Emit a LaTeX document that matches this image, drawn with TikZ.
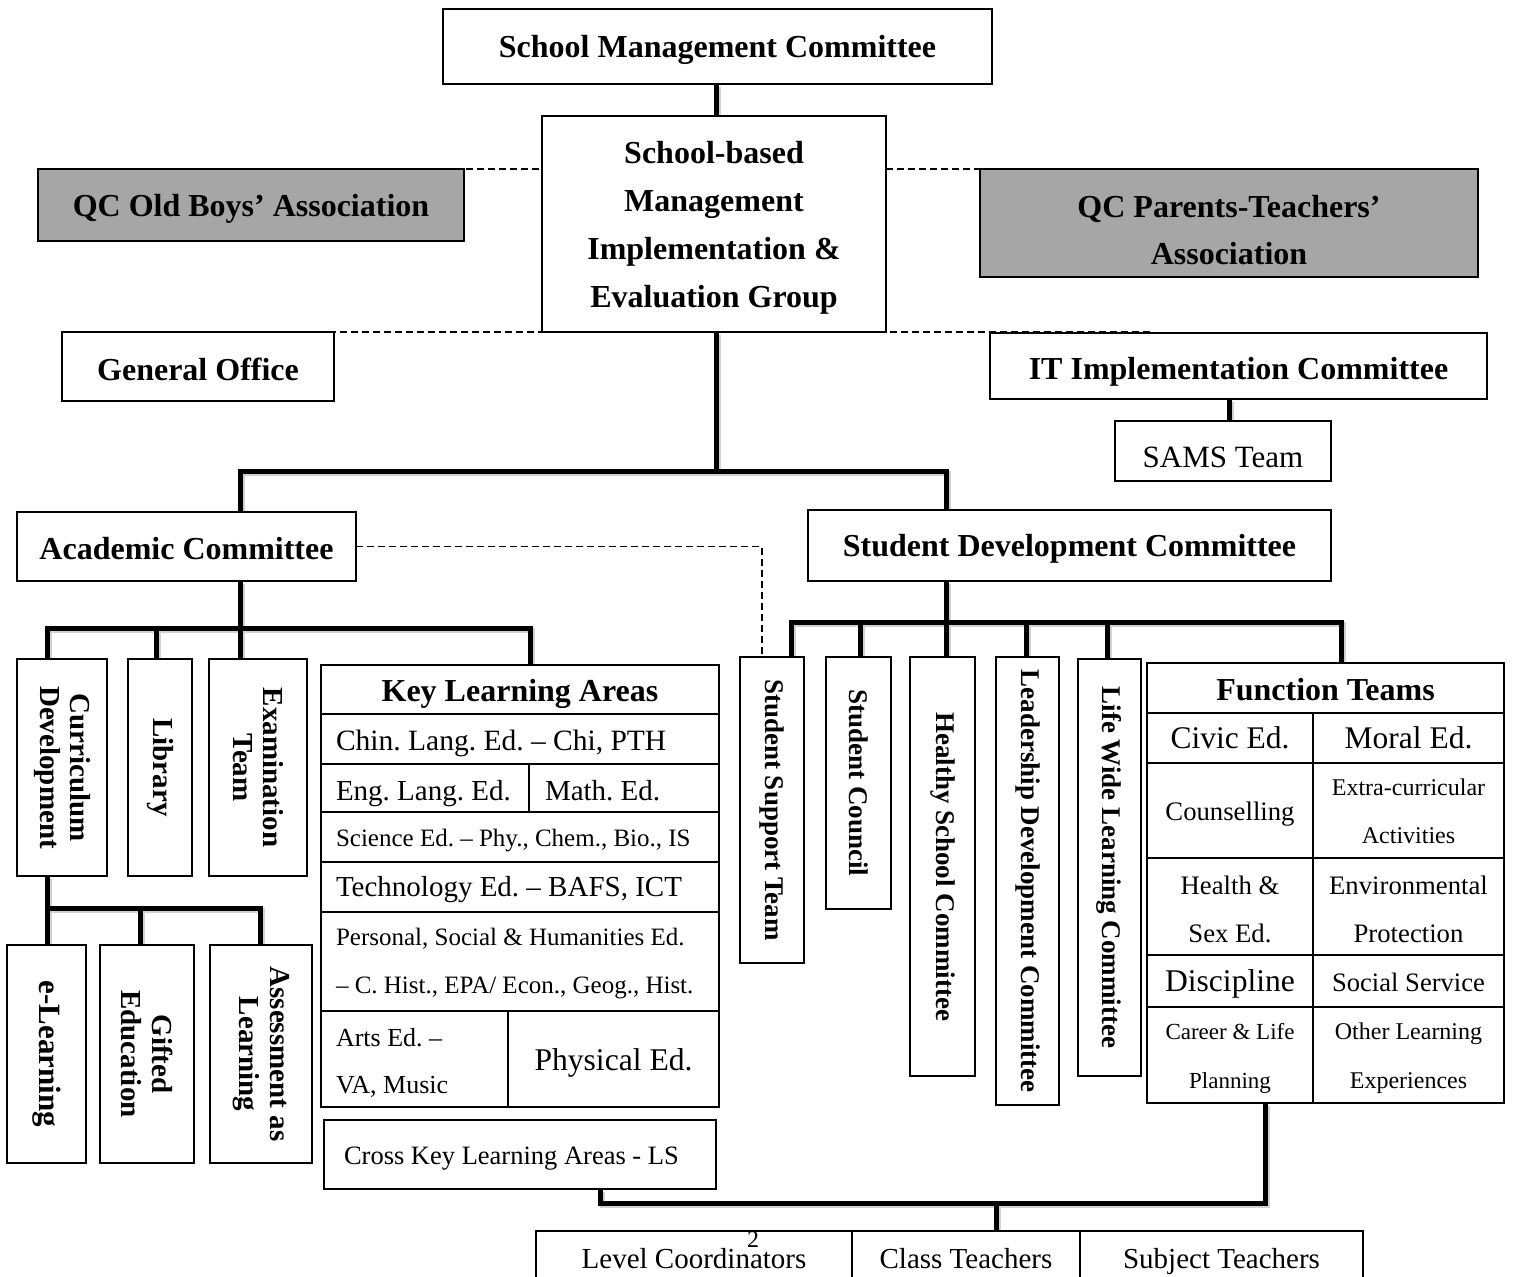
\documentclass[tikz,border=0pt]{standalone}
\usepackage{fontspec}
\setmainfont{Liberation Serif}
\frenchspacing
\usetikzlibrary{backgrounds}
\definecolor{boxgray}{RGB}{166,166,166}
\tikzset{
  bx/.style={draw, line width=1.4pt, fill=white, inner sep=0pt, outer sep=0pt},
  conn/.style={line width=5pt, line join=miter,
    preaction={draw=black!18, line width=5pt, transform canvas={shift={(2pt,-2.5pt)}}}},
  dsh/.style={line width=1.8pt, dash pattern=on 7pt off 4pt},
  tline/.style={line width=2pt},
  tx/.style={inner sep=0pt, outer sep=0pt},
  fz/.style n args={2}{font=\fontsize{#1}{#2}\selectfont},
  fzb/.style n args={2}{font=\fontsize{#1}{#2}\selectfont\bfseries},
}
% horizontal box: [box opts]{name}{x1}{y1}{x2}{y2}{text opts}{text}
\newcommand\hb[8][]{\node[bx,#1,minimum width={(#5-#3)*1pt},minimum height={(#6-#4)*1pt}] (#2) at ({(#3+#5)/2},{(#4+#6)/2}) {};
  \node[tx,align=center,#7] (#2-t) at (#2.center) {#8};}
% vertical box with rotated text
\newcommand\vb[8][]{\node[bx,#1,minimum width={(#5-#3)*1pt},minimum height={(#6-#4)*1pt}] (#2) at ({(#3+#5)/2},{(#4+#6)/2}) {};
  \node[tx,align=center,rotate=-90,#7] (#2-t) at (#2.center) {#8};}
\begin{document}
\begin{tikzpicture}[x=1pt,y=-1pt]
\useasboundingbox (0,0) rectangle (1513,1277);

% top level
\hb{smc}{443}{9}{992}{84}{fzb={32}{48},yshift=-3pt}{School Management Committee}
\hb{sbm}{542}{116}{886}{332}{fzb={32}{48},yshift=-4pt}{School-based\\Management\\Implementation \&\\Evaluation Group}
\hb[fill=boxgray]{oba}{38}{169}{464}{241}{fzb={32}{48},yshift=-4pt}{QC Old Boys’ Association}
\hb[fill=boxgray]{pta}{980}{169}{1478}{277}{fzb={32}{47},yshift=-7pt}{QC Parents-Teachers’\\Association}
\hb{go}{62}{332}{334}{401}{fzb={32}{48},yshift=-3pt}{General Office}
\hb{it}{990}{333}{1487}{399}{fzb={32}{48},yshift=-6pt}{IT Implementation Committee}
\hb{sams}{1115}{421}{1331}{481}{fz={31}{40},yshift=-6pt}{SAMS Team}
\hb{acad}{17}{512}{356}{581}{fzb={32}{48},yshift=-2pt}{Academic Committee}
\hb{sdc}{808}{510}{1331}{581}{fzb={32}{48},yshift=-3pt}{Student Development Committee}

% academic branches
\vb{cd}{17}{659}{107}{876}{fzb={29}{30}}{Curriculum\\Development}
\vb{lib}{128}{659}{192}{876}{fzb={29}{30}}{Library}
\vb{exam}{209}{659}{307}{876}{fzb={29}{30}}{Examination\\Team}
\vb{el}{7}{945}{86}{1163}{fzb={31}{31}}{e-Learning}
\vb{ge}{100}{945}{194}{1163}{fzb={29}{31}}{Gifted\\Education}
\vb{al}{210}{945}{312}{1163}{fzb={29}{31}}{Assessment as\\Learning}

% student development branches
\vb{sst}{740}{657}{804}{963}{fzb={27}{30}}{Student Support Team}
\vb{sc}{826}{657}{891}{909}{fzb={27}{30}}{Student Council}
\vb{hs}{910}{657}{975}{1076}{fzb={27}{30}}{Healthy School Committee}
\vb{ld}{996}{657}{1059}{1105}{fzb={27}{30}}{Leadership Development Committee}
\vb{lw}{1078}{659}{1141}{1076}{fzb={27}{30}}{Life Wide Learning Committee}

% Key Learning Areas table
\hb[line width=2pt]{kla}{321}{665}{719}{1107}{}{}
\foreach \yy in {714,764,812,862,912,1011} \draw[tline] (kla.west |- 0,\yy) -- (kla.east |- 0,\yy);
\draw[tline] (529,764) -- (529,812);
\draw[tline] (508,1011) -- (508,0 |- kla.south);
\node[tx,fzb={32}{40}] (klah) at (520,694) {Key Learning Areas};
\node[tx,fz={29.5}{40},anchor=west] (kl1) at (336,743) {Chin. Lang. Ed. – Chi, PTH};
\node[tx,fz={29}{40},anchor=base west] (kl2) at (336,800) {Eng. Lang. Ed.};
\node[tx,fz={29}{40},anchor=base west] (kl3) at (545,800) {Math. Ed.};
\node[tx,fz={25}{40},anchor=west] (kl4) at (336,841) {Science Ed. – Phy., Chem., Bio., IS};
\node[tx,fz={29}{40},anchor=west] (kl5) at (336,890) {Technology Ed. – BAFS, ICT};
\node[tx,fz={25}{48},anchor=west,align=left] (kl6) at (336,964) {Personal, Social \& Humanities Ed.\\– C. Hist., EPA/ Econ., Geog., Hist.};
\node[tx,fz={26}{47},anchor=west,align=left] (kl7) at (336,1063) {Arts Ed. –\\VA, Music};
\node[tx,fz={31.6}{40}] (kl8) at (613.5,1063) {Physical Ed.};

\hb{ckla}{324}{1120}{716}{1189}{}{}
\node[tx,fz={26.5}{40},anchor=west] (cklat) at (344,1159) {Cross Key Learning Areas - LS};

% Function Teams table
\hb[line width=2pt]{ft}{1147}{663}{1504}{1103}{}{}
\foreach \yy in {713,763,858,955,1007} \draw[tline] (ft.west |- 0,\yy) -- (ft.east |- 0,\yy);
\draw[tline] (1313,713) -- (1313,0 |- ft.south);
\node[tx,fzb={32}{40}] (fth) at (1325.5,690) {Function Teams};
\node[tx,fz={31.5}{40}] (f1) at (1230,738) {Civic Ed.};
\node[tx,fz={31.5}{40}] (f2) at (1408.5,738) {Moral Ed.};
\node[tx,fz={26.7}{40}] (f3) at (1230,814) {Counselling};
\node[tx,fz={24}{48},align=center] (f4) at (1408.5,811) {Extra-curricular\\Activities};
\node[tx,fz={26.7}{48},align=center] (f5) at (1230,909) {Health \&\\Sex Ed.};
\node[tx,fz={26.7}{48},align=center] (f6) at (1408.5,909) {Environmental\\Protection};
\node[tx,fz={31.6}{40}] (f7) at (1230,984) {Discipline};
\node[tx,fz={26.6}{40}] (f8) at (1408.5,982) {Social Service};
\node[tx,fz={23}{49},align=center] (f9) at (1230,1058) {Career \& Life\\Planning};
\node[tx,fz={24}{49},align=center] (f10) at (1408.5,1058) {Other Learning\\Experiences};

% bottom row
\hb{bot}{536}{1231}{1363}{1310}{}{}
\draw[line width=1.4pt] (852,0 |- bot.north) -- (852,0 |- bot.south);
\draw[line width=1.4pt] (1080,0 |- bot.north) -- (1080,0 |- bot.south);
\node[tx,fz={29}{40},anchor=base] (b1) at (694,1268) {Level Coordinators};
\node[tx,fz={29}{40},anchor=base] (b2) at (966,1268) {Class Teachers};
\node[tx,fz={29}{40},anchor=base] (b3) at (1221.5,1268) {Subject Teachers};
\node[tx,fz={24}{30}] (pg) at (753,1240) {2};

\begin{scope}[on background layer]
% connectors
\draw[conn] (716,0 |- smc.south) -- (716,0 |- sbm.north);
\draw[conn] (716,0 |- sbm.south) -- (716,471) coordinate (j0);
\draw[conn] (240,0 |- acad.north) -- (240,471) -- (946,471) -- (946,0 |- sdc.north);
\draw[conn] (1229,0 |- it.south) -- (1229,0 |- sams.north);

% academic children
\draw[conn] (240,0 |- acad.south) -- (240,628);
\draw[conn] (47.5,0 |- cd.north) -- (47.5,628) -- (530,628) -- (530,0 |- kla.north);
\draw[conn] (156,628) -- (156,0 |- lib.north);
\draw[conn] (240,628) -- (240,0 |- exam.north);
\draw[conn] (47.5,0 |- cd.south) -- (47.5,0 |- el.north);
\draw[conn] (47.5,908) -- (260,908) -- (260,0 |- al.north);
\draw[conn] (140,908) -- (140,0 |- ge.north);

% student development children
\draw[conn] (946,0 |- sdc.south) -- (946,622);
\draw[conn] (791,0 |- sst.north) -- (791,622) -- (1341,622) -- (1341,0 |- ft.north);
\draw[conn] (860,622) -- (860,0 |- sc.north);
\draw[conn] (946,622) -- (946,0 |- hs.north);
\draw[conn] (1026,622) -- (1026,0 |- ld.north);
\draw[conn] (1107,622) -- (1107,0 |- lw.north);

% to teachers
\draw[conn] (600,0 |- ckla.south) -- (600,1203) -- (1265,1203) -- (1265,0 |- ft.south);
\draw[conn] (996,1203) -- (996,0 |- bot.north);
\end{scope}

% dashed links
\coordinate (dl1) at (312,169);
\coordinate (dr1) at (1188,169);
\coordinate (dl2) at (285,332);
\coordinate (dr2) at (1154,332);
\draw[dsh] (dl1) -- (dl1 -| sbm.west);
\draw[dsh] (dr1 -| sbm.east) -- (dr1);
\draw[dsh] (dl2) -- (dr2);
\draw[dsh] (acad.east) -- (762,0 |- acad.east) -- (762,0 |- sst.north);
\end{tikzpicture}
\end{document}
